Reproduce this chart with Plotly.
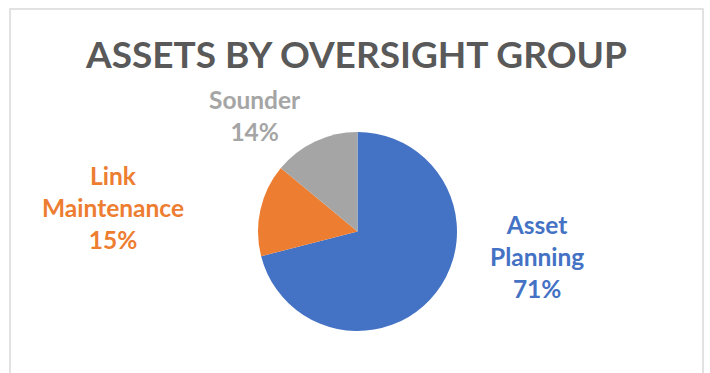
import plotly.graph_objects as go

labels = ["Asset Planning", "Link Maintenance", "Sounder"]
label_lines = ["Asset<br>Planning", "Link<br>Maintenance", "Sounder"]
values = [71, 15, 14]
colors = ["#4472C4", "#ED7D31", "#A5A5A5"]
title_text = "ASSETS BY OVERSIGHT GROUP"

W, H = 710, 373
cx, cy, r = 357.5, 231.5, 99.5

fig = go.Figure(go.Pie(
    labels=labels, values=values, sort=False, direction="clockwise", rotation=0,
    marker=dict(colors=colors, line=dict(width=0)),
    textinfo="none", hoverinfo="label+percent", showlegend=False,
    domain=dict(x=[(cx - r) / W, (cx + r) / W], y=[1 - (cy + r) / H, 1 - (cy - r) / H]),
))

total = sum(values)
# label centre positions in pixels (x, y)
label_pos = [(537, 256), (113, 207), (255, 115)]
annotations = []
for txt, v, col, (px, py) in zip(label_lines, values, colors, label_pos):
    pct = round(100 * v / total)
    annotations.append(dict(
        text=f"{txt}<br>{pct}%", x=px / W, y=1 - py / H, xref="paper", yref="paper",
        showarrow=False, xanchor="center", yanchor="middle", align="center",
        font=dict(family="Lato", size=24.5, color=col, weight="bold"),
    ))
annotations.append(dict(
    text=title_text, x=356 / W, y=1 - 54 / H, xref="paper", yref="paper",
    showarrow=False, xanchor="center", yanchor="middle",
    font=dict(family="Lato", size=37, color="#595959", weight="bold"),
))

fig.update_layout(
    width=W, height=H, margin=dict(l=0, r=0, t=0, b=0),
    paper_bgcolor="white", plot_bgcolor="white",
    annotations=annotations,
    shapes=[dict(type="rect", xref="paper", yref="paper",
                 x0=10 / W, x1=703 / W, y0=-0.05, y1=1 - 9 / H,
                 line=dict(color="#D9D9D9", width=1.5))],
)
fig.write_html("out.html")
